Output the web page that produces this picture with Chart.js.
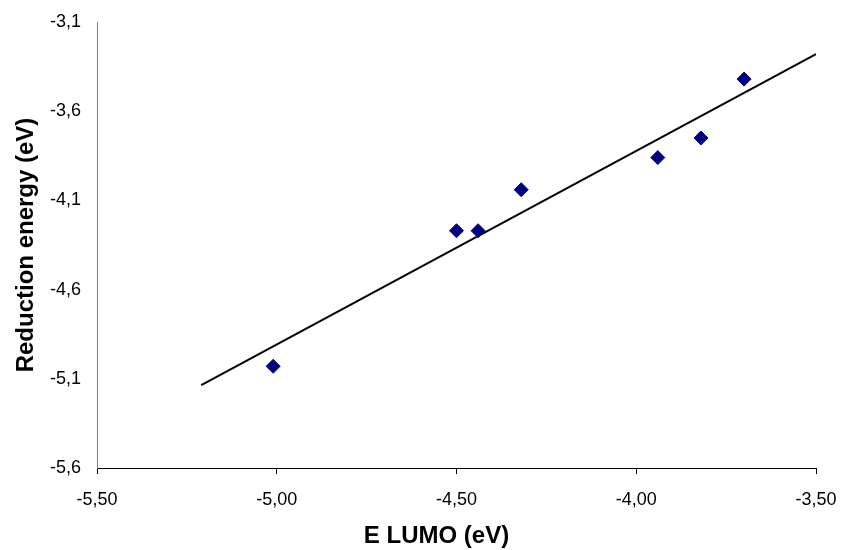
<!DOCTYPE html>
<html>
<head>
<meta charset="utf-8">
<script src="https://cdn.jsdelivr.net/npm/chart.js@4.4.1/dist/chart.umd.min.js"></script>
<style>
  html, body { margin: 0; padding: 0; background: #fff; }
  #wrap { width: 841px; height: 550px; }
</style>
</head>
<body>
<div id="wrap"><canvas id="ctx" width="841" height="550"></canvas></div>
<script>
// values
const lumo = [-5.01, -4.50, -4.44, -4.32, -3.94, -3.82, -3.70];
const reduction = [-5.03, -4.27, -4.27, -4.04, -3.86, -3.75, -3.42];
// trend line end points
const trendX = [-5.21, -3.50];
const trendY = [-5.135, -3.28];

const xTicks = [-5.5, -5.0, -4.5, -4.0, -3.5];
const xTickLabels = ['-5,50', '-5,00', '-4,50', '-4,00', '-3,50'];
const yTicks = [-5.6, -5.1, -4.6, -4.1, -3.6, -3.1];
const yTickLabels = ['-5,6', '-5,1', '-4,6', '-4,1', '-3,6', '-3,1'];
const xTitle = 'E LUMO (eV)';
const yTitle = 'Reduction energy (eV)';

const font = '"Liberation Sans", Arial, sans-serif';
Chart.defaults.font.family = font;
Chart.defaults.color = '#000';

// x title is drawn by hand, it sits a bit left of the plot centre
const xTitlePlugin = {
  id: 'xTitle',
  afterDraw(c) {
    const a = c.chartArea;
    const g = c.ctx;
    g.save();
    g.font = 'bold 24px ' + font;
    g.fillStyle = '#000';
    g.textAlign = 'center';
    g.textBaseline = 'alphabetic';
    g.fillText(xTitle, (a.left + a.right) / 2 - 20, 543);
    g.restore();
  }
};

const ctx = document.getElementById('ctx');

const chart = new Chart(ctx, {
  type: 'scatter',
  data: {
    datasets: [{
      label: 'Reduction energy',
      data: lumo.map((x, i) => ({ x: x, y: reduction[i] })),
      pointStyle: 'rectRot',
      pointRadius: 7,
      pointBackgroundColor: '#000080',
      pointBorderColor: '#000080',
      pointBorderWidth: 1,
      showLine: false
    }, {
      label: 'Trend',
      data: trendX.map((x, i) => ({ x: x, y: trendY[i] })),
      showLine: true,
      borderColor: '#000',
      borderWidth: 2,
      pointRadius: 0,
      fill: false
    }]
  },
  options: {
    responsive: false,
    animation: false,
    layout: { padding: { left: 0, right: 25, top: 22, bottom: 0 } },
    plugins: {
      legend: { display: false },
      tooltip: { enabled: false }
    },
    scales: {
      x: {
        type: 'linear',
        min: -5.5,
        max: -3.5,
        afterBuildTicks: s => { s.ticks = xTicks.map(v => ({ value: v })); },
        afterFit: s => { s.height = 82; s.paddingLeft = 0; s.paddingRight = 0; },
        border: { display: true, color: '#000', width: 1 },
        grid: { display: true, drawOnChartArea: false, drawTicks: true, tickLength: 6, color: '#000' },
        ticks: {
          padding: 15,
          font: { size: 18 },
          callback: (v, i) => xTickLabels[i]
        },
        title: { display: false }
      },
      y: {
        type: 'linear',
        min: -5.6,
        max: -3.1,
        afterBuildTicks: s => { s.ticks = yTicks.map(v => ({ value: v })); },
        afterFit: s => { s.width = 97; s.paddingTop = 0; s.paddingBottom = 0; },
        border: { display: true, color: '#808080', width: 1 },
        grid: { display: false, drawTicks: false },
        ticks: {
          padding: 16,
          font: { size: 18 },
          callback: (v, i) => yTickLabels[i]
        },
        title: {
          display: true,
          text: yTitle,
          font: { size: 24, weight: 'bold' },
          padding: { top: 12, bottom: 0 }
        }
      }
    }
  },
  plugins: [xTitlePlugin]
});
</script>
</body>
</html>
